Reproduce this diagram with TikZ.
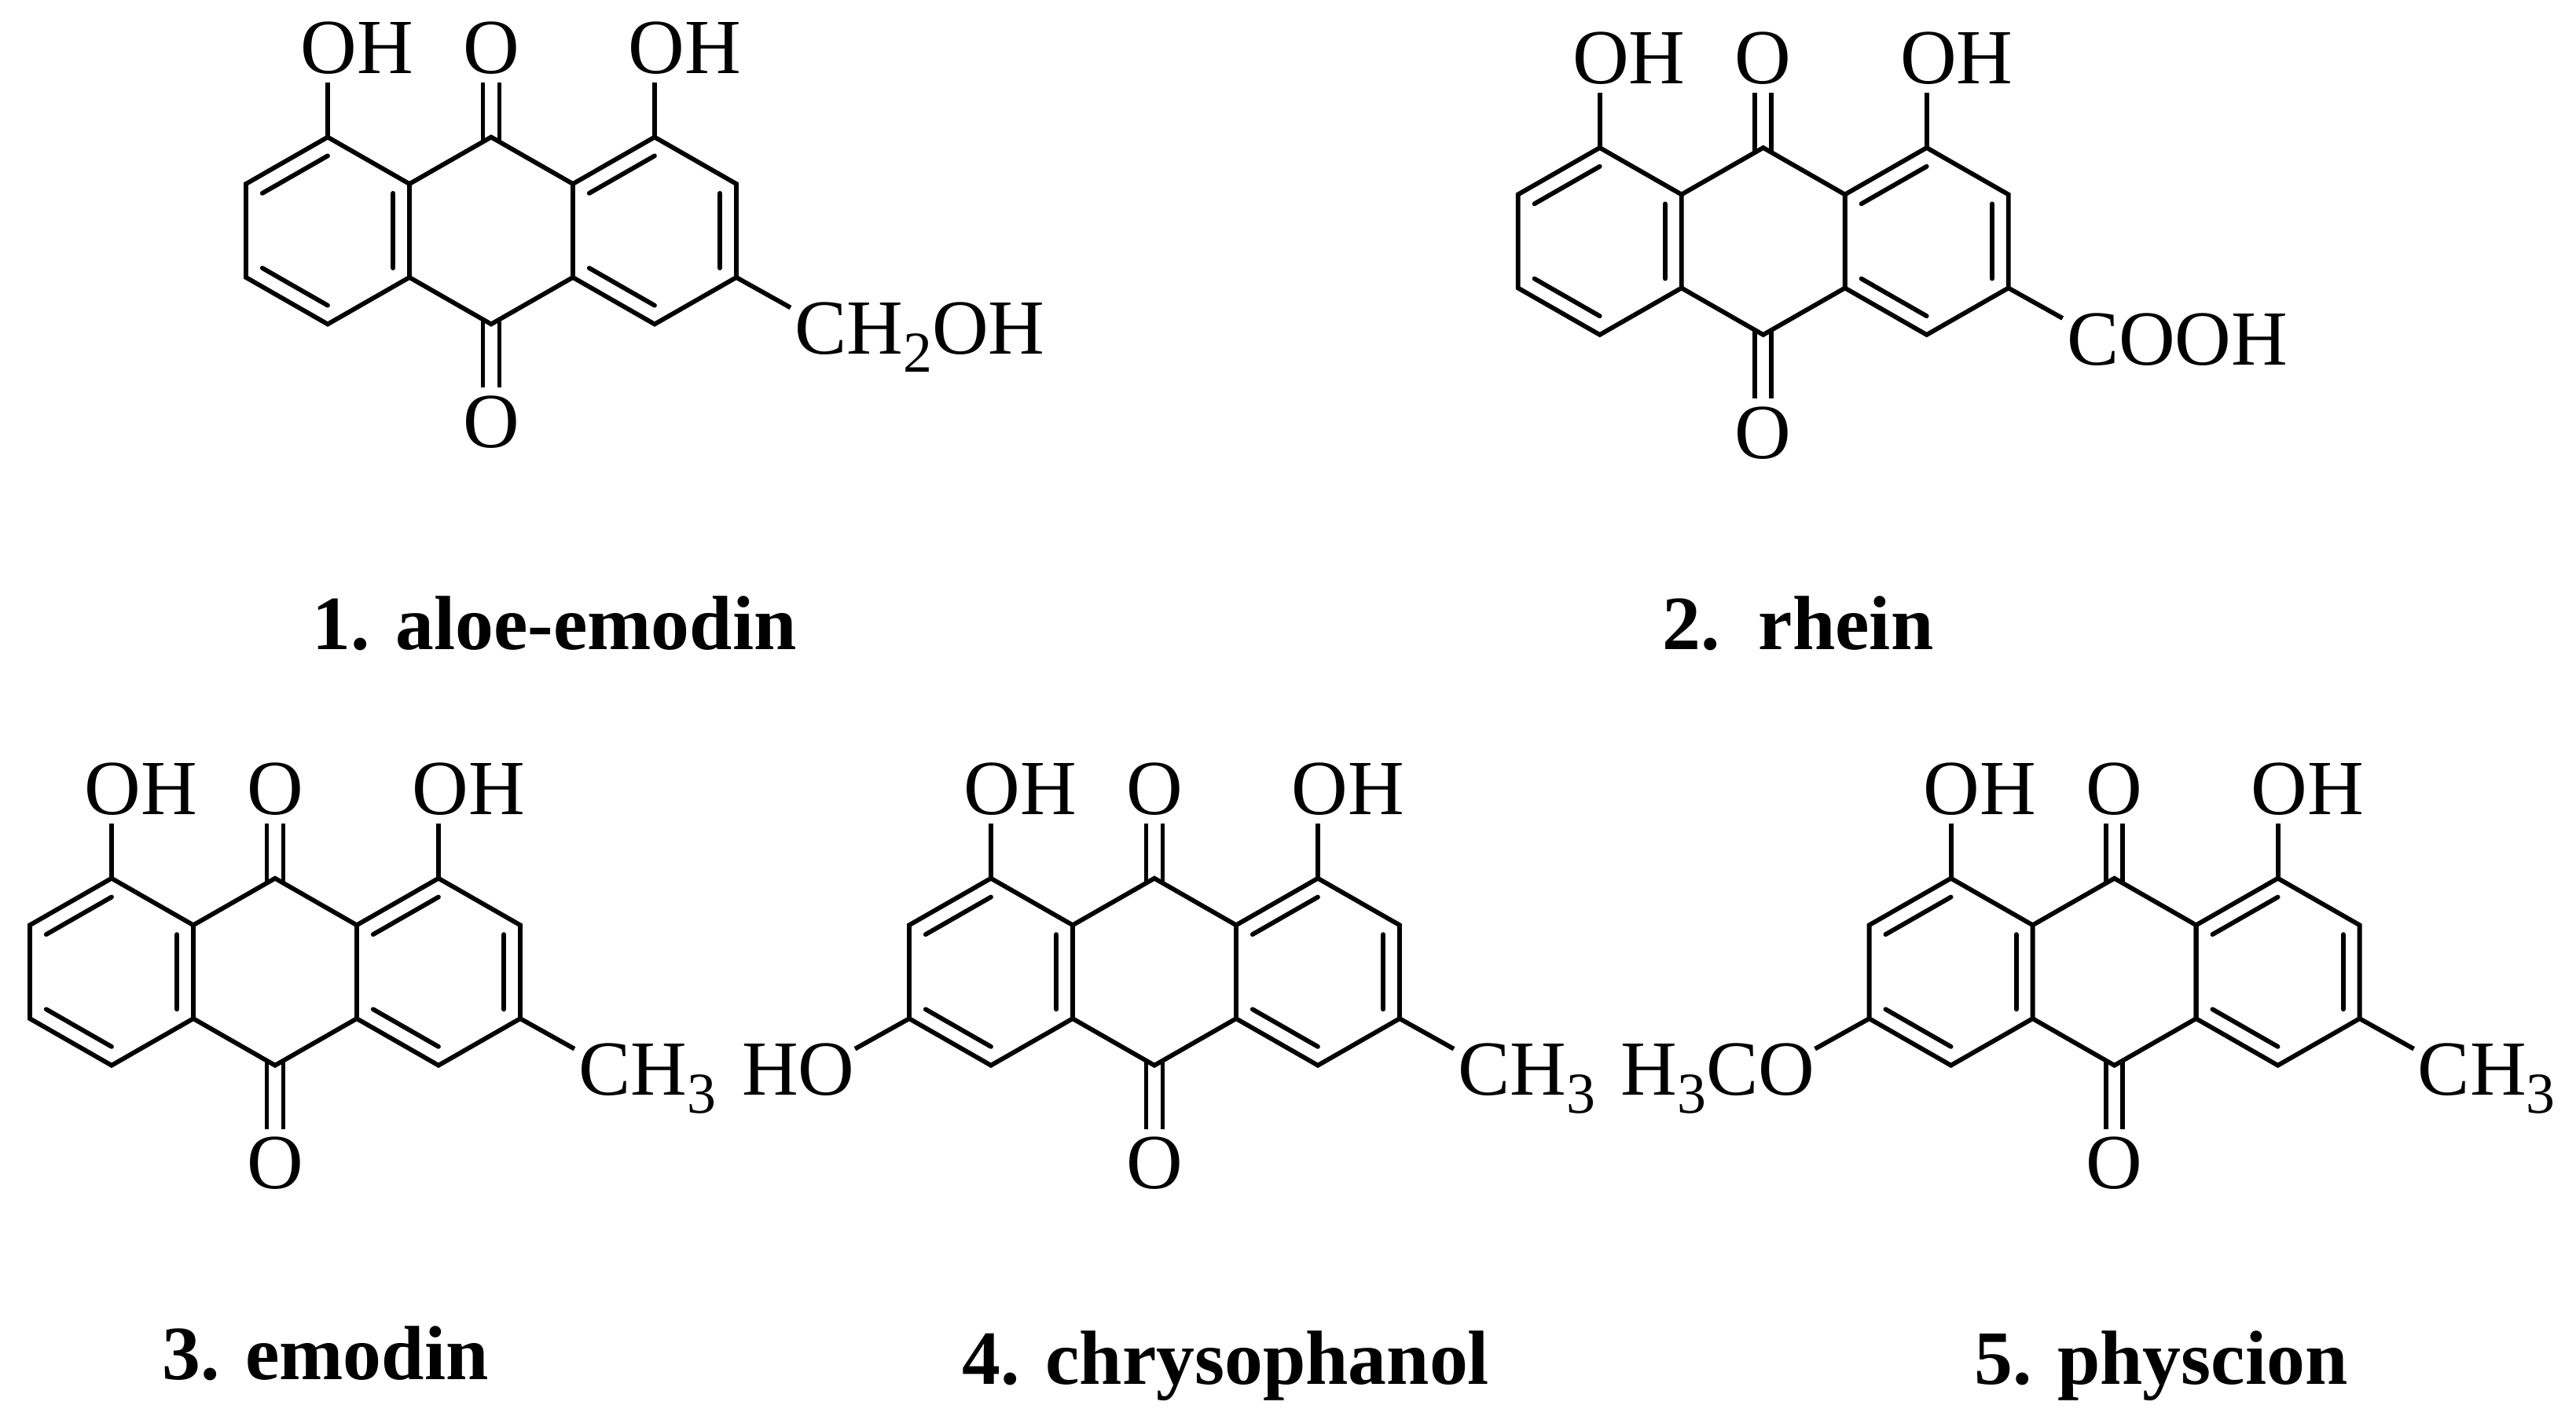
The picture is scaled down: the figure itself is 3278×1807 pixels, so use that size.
\documentclass[tikz,border=0pt]{standalone}
\usepackage{fontspec}
\setmainfont{Liberation Serif}
\usetikzlibrary{calc}

\tikzset{
  bond/.style={line width=3.3pt},
  innerbond/.style={line width=3.3pt,line cap=round},
  atom/.style={inner sep=0pt,font=\fontsize{56.5}{60}\selectfont,anchor=base west},
  caption/.style={inner sep=0pt,font=\fontsize{55.6}{60}\selectfont\bfseries,anchor=base}
}

\newcommand{\lowidx}[1]{\raisebox{-0.23em}{\fontsize{42}{42}\selectfont #1}}

% esqueleto de tres anillos
\newcommand{\ringskel}[3]{
\begin{scope}[shift={(#2,#3)}]
\coordinate (#1lc) at (-208,0);
\coordinate (#1rc) at (208,0);
\coordinate (#1l1) at (-208,-119);
\coordinate (#1l2) at (-312,-59.5);
\coordinate (#1l3) at (-312,59.5);
\coordinate (#1l4) at (-208,119);
\coordinate (#1c1) at (-104,-59.5);
\coordinate (#1c2) at (-104,59.5);
\coordinate (#1c3) at (0,119);
\coordinate (#1c4) at (104,59.5);
\coordinate (#1c5) at (104,-59.5);
\coordinate (#1c6) at (0,-119);
\coordinate (#1r1) at (208,-119);
\coordinate (#1r2) at (312,-59.5);
\coordinate (#1r3) at (312,59.5);
\coordinate (#1r4) at (208,119);
\coordinate (#1le) at (-381,98); % extremos libres
\coordinate (#1re) at (381,98);
\coordinate (#1rt) at (386,157);
\coordinate (#1lt) at (-381,157);

\draw[bond] (#1l1) -- (#1l2) -- (#1l3) -- (#1l4) -- (#1c2) -- (#1c1) -- cycle;
\draw[bond] (#1c1) -- (#1c6) -- (#1c5) -- (#1c4) -- (#1c3) -- (#1c2);
\draw[bond] (#1r1) -- (#1r2) -- (#1r3) -- (#1r4) -- (#1c4) -- (#1c5) -- cycle;

% dobles enlaces interiores
\foreach \a/\b/\m in {l1/l2/lc,l3/l4/lc,c1/c2/lc,c5/r1/rc,r2/r3/rc,c4/r4/rc}
  \draw[innerbond] ($(#1\a)!0.2!(#1\m)$) -- ($(#1\b)!0.2!(#1\m)$);

\node[atom] (#1o1) at (-243,-200) {OH};
\node[atom,anchor=base] (#1o2) at (0,-200) {O};
\node[atom] (#1o3) at (174,-200) {OH};
\node[atom,anchor=base] (#1o4) at (0,276) {O};

\coordinate (#1t1) at (-208,-188.5);
\coordinate (#1t3) at (208,-188.5);
\draw[bond] (#1l1) -- (#1t1);
\draw[bond] (#1r1) -- (#1t3);

% carbonilos
\draw[bond] ($(#1c6)+(-10.5,6)$) -- ++(0,-75.5);
\draw[bond] ($(#1c6)+(10.5,6)$) -- ++(0,-75.5);
\draw[bond] ($(#1c3)+(-10.5,-6)$) -- ++(0,87);
\draw[bond] ($(#1c3)+(10.5,-6)$) -- ++(0,87);
\end{scope}
}

\begin{document}
\begin{tikzpicture}[x=0.02cm,y=-0.02cm]
\useasboundingbox (0,0) rectangle (3278,1807);

\ringskel{ma}{625}{293.5}
\draw[bond] (mar3) -- (mare);
\node[atom] (mach) at (mart) {CH\lowidx{2}OH};
\node[caption] (macap) at (705.6,826.7) {1. aloe-emodin};

\ringskel{mb}{2243.7}{307}
\draw[bond] (mbr3) -- (mbre);
\node[atom] (mbch) at (mbrt) {COOH};
\node[caption] (mbcap) at (2288,826.7) {2.\ \ rhein};

\ringskel{mc}{350}{1236.7}
\draw[bond] (mcr3) -- (mcre);
\node[atom] (mcch) at (mcrt) {CH\lowidx{3}};
\node[caption] (mccap) at (414,1755) {3. emodin};

\ringskel{md}{1469}{1236.7}
\draw[bond] (mdr3) -- (mdre);
\draw[bond] (mdl3) -- (mdle);
\node[atom] (mdch) at (mdrt) {CH\lowidx{3}};
\node[atom,anchor=base east] (mdho) at (mdlt) {HO};
\node[caption] (mdcap) at (1560,1761) {4. chrysophanol};

\ringskel{me}{2690.6}{1236.7}
\draw[bond] (mer3) -- (mere);
\draw[bond] (mel3) -- (mele);
\node[atom] (mech) at (mert) {CH\lowidx{3}};
\node[atom,anchor=base east] (meho) at (melt) {H\lowidx{3}CO};
\node[caption] (mecap) at (2750,1761) {5. physcion};

\end{tikzpicture}
\end{document}
